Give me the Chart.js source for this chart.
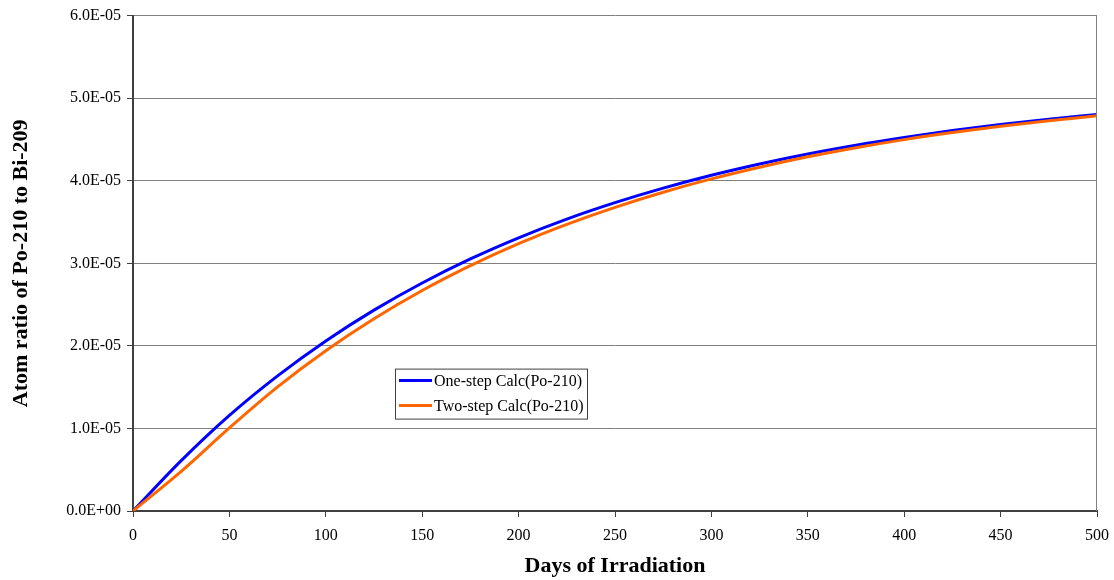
<!DOCTYPE html>
<html>
<head>
<meta charset="utf-8">
<title>Po-210 build-up</title>
<script src="https://cdn.jsdelivr.net/npm/chart.js@4/dist/chart.umd.min.js"></script>
<style>
  html, body { margin: 0; padding: 0; background: #fff; }
  #wrap { width: 1114px; height: 580px; }
</style>
</head>
<body>
<div id="wrap"><canvas id="chart" width="1114" height="580"></canvas></div>
<script>
// irradiation time, days
const days = [0, 25, 50, 75, 100, 125, 150, 175, 200, 225, 250, 275, 300, 325, 350, 375, 400, 425, 450, 475, 500];

// atom ratio Po-210 / Bi-209
const oneStep = [0, 0.610e-5, 1.158e-5, 1.637e-5, 2.060e-5, 2.433e-5, 2.762e-5, 3.053e-5, 3.309e-5, 3.535e-5,
    3.734e-5, 3.910e-5, 4.066e-5, 4.203e-5, 4.324e-5, 4.430e-5, 4.524e-5, 4.608e-5, 4.681e-5, 4.745e-5, 4.802e-5];
const twoStep = [0, 0.480e-5, 1.006e-5, 1.503e-5, 1.941e-5, 2.328e-5, 2.670e-5, 2.971e-5, 3.237e-5, 3.471e-5,
    3.678e-5, 3.861e-5, 4.022e-5, 4.164e-5, 4.290e-5, 4.400e-5, 4.498e-5, 4.584e-5, 4.660e-5, 4.727e-5, 4.786e-5];

const seriesNames = ["One-step Calc(Po-210)", "Two-step Calc(Po-210)"];
const seriesColors = ["#0000ff", "#ff6600"];

const yMax = 6e-5;
const yStep = 1e-5;
const xMax = 500;
const xStep = 50;

const serif = "'Liberation Serif', 'Times New Roman', serif";

function sci(v) {
    if (Math.abs(v) < 1e-12) return "0.0E+00";
    const e = Math.floor(Math.log10(Math.abs(v)) + 1e-9);
    const m = v / Math.pow(10, e);
    return m.toFixed(1) + "E" + (e < 0 ? "-" : "+") + String(Math.abs(e)).padStart(2, "0");
}

function toPoints(ys) {
    return days.map((d, i) => ({ x: d, y: ys[i] }));
}

// right frame edge + boxed legend inside the plot
const framePlugin = {
    id: "frame",
    afterDatasetsDraw(chart) {
        const ctx = chart.ctx;
        const a = chart.chartArea;
        ctx.save();
        ctx.strokeStyle = "#808080";
        ctx.lineWidth = 1;
        ctx.beginPath();
        ctx.moveTo(a.right - 0.5, a.top);
        ctx.lineTo(a.right - 0.5, a.bottom);
        ctx.stroke();

        // legend box
        const lx = a.left + 262, ly = a.top + 353, lw = 192, lh = 50;
        ctx.fillStyle = "#fff";
        ctx.fillRect(lx, ly, lw, lh);
        ctx.strokeStyle = "#404040";
        ctx.strokeRect(lx + 0.5, ly + 0.5, lw, lh);
        ctx.font = "16px " + serif;
        ctx.textBaseline = "middle";
        chart.data.datasets.forEach((ds, i) => {
            const y = ly + 12 + i * 25;
            ctx.strokeStyle = ds.borderColor;
            ctx.lineWidth = 3;
            ctx.beginPath();
            ctx.moveTo(lx + 4, y);
            ctx.lineTo(lx + 37, y);
            ctx.stroke();
            ctx.fillStyle = "#000";
            ctx.fillText(ds.label, lx + 39, y + 1);
        });
        ctx.restore();
    }
};

new Chart(document.getElementById("chart"), {
    type: "scatter",
    data: {
        datasets: [
            {
                label: seriesNames[0],
                data: toPoints(oneStep),
                borderColor: seriesColors[0],
                backgroundColor: seriesColors[0],
                borderWidth: 3,
                showLine: true,
                pointRadius: 0,
                cubicInterpolationMode: "monotone",
                order: 2
            },
            {
                label: seriesNames[1],
                data: toPoints(twoStep),
                borderColor: seriesColors[1],
                backgroundColor: seriesColors[1],
                borderWidth: 3,
                showLine: true,
                pointRadius: 0,
                cubicInterpolationMode: "monotone",
                order: 1
            }
        ]
    },
    options: {
        responsive: false,
        animation: false,
        devicePixelRatio: 1,
        layout: { padding: { top: 13, right: 17, left: 0, bottom: 0 } },
        plugins: {
            legend: { display: false },
            tooltip: { enabled: false }
        },
        scales: {
            x: {
                type: "linear",
                min: 0,
                max: xMax,
                afterFit(scale) {
                    scale.height = 69;
                    // end labels may hang into the outer padding
                    scale.paddingLeft = 0;
                    scale.paddingRight = 0;
                },
                ticks: {
                    stepSize: xStep,
                    maxRotation: 0,
                    color: "#000",
                    padding: 9,
                    font: { family: serif, size: 16 }
                },
                grid: {
                    drawOnChartArea: false,
                    drawTicks: true,
                    tickLength: 6,
                    color: "#404040"
                },
                border: { color: "#404040", width: 2 },
                title: {
                    display: true,
                    text: "Days of Irradiation",
                    color: "#000",
                    font: { family: serif, size: 22, weight: "bold" },
                    padding: { top: 4, bottom: 0 }
                }
            },
            y: {
                type: "linear",
                min: 0,
                max: yMax,
                afterFit(scale) { scale.width = 133; },
                ticks: {
                    stepSize: yStep,
                    color: "#000",
                    padding: 6,
                    font: { family: serif, size: 16 },
                    callback: v => sci(v)
                },
                grid: {
                    color: "#808080",
                    lineWidth: 1,
                    tickLength: 6,
                    tickColor: "#404040"
                },
                border: { color: "#404040", width: 2 },
                title: {
                    display: true,
                    text: "Atom ratio of Po-210 to Bi-209",
                    color: "#000",
                    font: { family: serif, size: 22, weight: "bold" },
                    padding: { top: 8, bottom: 0 }
                }
            }
        }
    },
    plugins: [framePlugin]
});
</script>
</body>
</html>
